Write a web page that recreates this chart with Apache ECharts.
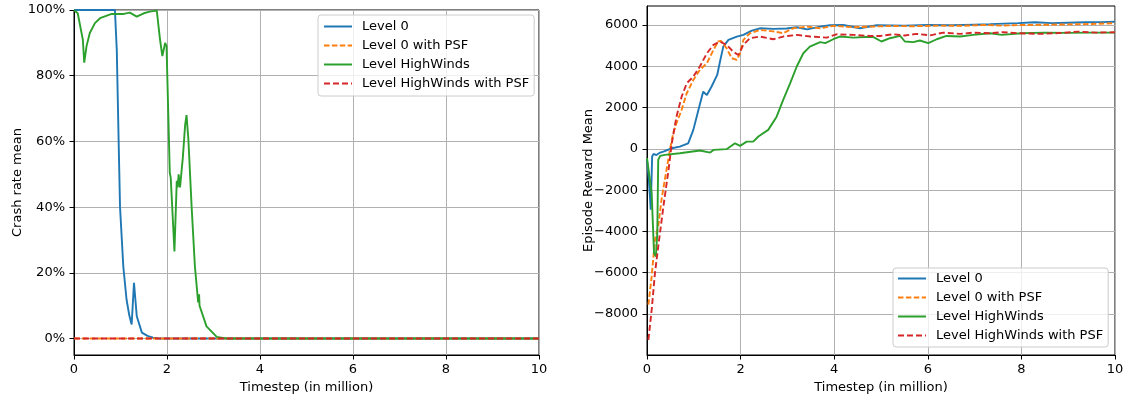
<!DOCTYPE html>
<html>
<head>
<meta charset="utf-8">
<script src="https://cdn.jsdelivr.net/npm/echarts@6/dist/echarts.min.js"></script>
<style>
  html, body { margin: 0; padding: 0; background: #fff; }
  #chart { width: 1126px; height: 399px; }
</style>
</head>
<body>
<div id="chart"></div>
<script>
// Series labels (shared by both panels)
const seriesNames = ['Level 0', 'Level 0 with PSF', 'Level HighWinds', 'Level HighWinds with PSF'];
const seriesColors = ['#1f77b4', '#ff7f0e', '#2ca02c', '#d62728'];

// Axis ticks
const timestepTicks = [0, 2, 4, 6, 8, 10];
const crashTicks = [0, 20, 40, 60, 80, 100];
const rewardTicks = [-8000, -6000, -4000, -2000, 0, 2000, 4000, 6000];

// ---- Crash rate mean (%) vs timestep (million) ----
const crashL0_t = [0, 0.88, 0.92, 0.96, 0.99, 1.06, 1.13, 1.19, 1.24, 1.29, 1.35, 1.46, 1.58, 1.70, 1.85, 10];
const crashL0_v = [100, 100, 87.8, 60, 40, 22, 11.9, 7, 4.3, 17, 6.8, 1.8, 0.8, 0.3, 0, 0];

const crashL0PSF_t = [0, 10];
const crashL0PSF_v = [0, 0];

const crashHW_t = [0, 0.08, 0.19, 0.22, 0.27, 0.34, 0.45, 0.56, 0.81, 1.07, 1.2, 1.35, 1.5, 1.63, 1.78,
  1.85, 1.90, 1.96, 1.99, 2.06, 2.08, 2.16, 2.21, 2.23, 2.25, 2.28, 2.34, 2.39, 2.42, 2.46,
  2.53, 2.60, 2.67, 2.69, 2.70, 2.85, 3.07, 3.3, 10];
const crashHW_v = [100, 99, 91, 84, 89, 93, 96, 97.5, 98.8, 98.8, 99.2, 98, 99, 99.5, 99.8,
  91, 86, 90, 89, 50.4, 49, 26.5, 48, 46, 50, 46, 55, 65, 68, 60.5,
  40, 22, 11, 13.5, 10, 3.7, 0.5, 0, 0];

const crashHWPSF_t = [0, 10];
const crashHWPSF_v = [0, 0];

// ---- Episode reward mean vs timestep (million) ----
const rewardL0_t = [0, 0.04, 0.08, 0.11, 0.14, 0.2, 0.28, 0.35, 0.53, 0.7, 0.88, 0.99, 1.10, 1.20, 1.28,
  1.38, 1.50, 1.56, 1.63, 1.74, 1.92, 2.06, 2.24, 2.41, 2.70, 2.98, 3.2, 3.42, 3.70, 3.91,
  4.19, 4.55, 4.91, 5.5, 6.0, 6.5, 7.0, 7.33, 7.93, 8.29, 8.65, 9.0, 9.36, 9.7, 10];
const rewardL0_v = [-530, -1500, -2950, -370, -240, -300, -180, -130, 30, 110, 270, 920, 1890, 2770, 2610,
  3020, 3580, 4230, 4950, 5280, 5440, 5520, 5730, 5840, 5810, 5830, 5890, 5790, 5920, 5990,
  6000, 5840, 5990, 5970, 6000, 5990, 6020, 6040, 6090, 6130, 6090, 6110, 6130, 6140, 6160];

const rewardL0PSF_t = [0.03, 0.10, 0.17, 0.24, 0.31, 0.38, 0.49, 0.56, 0.63, 0.74, 0.85, 0.99, 1.13, 1.28,
  1.42, 1.52, 1.58, 1.70, 1.81, 1.92, 1.99, 2.06, 2.20, 2.41, 2.70, 2.91, 3.12, 3.42, 3.70,
  3.99, 4.41, 4.76, 5.2, 5.7, 6.2, 6.7, 7.2, 7.6, 8.0, 8.5, 9.0, 9.5, 10];
const rewardL0PSF_v = [-7550, -6180, -4400, -3760, -2470, -1500, -50, 760, 1240, 1890, 2700, 3340, 3830, 4150,
  4790, 5200, 5230, 4880, 4390, 4310, 4630, 5280, 5600, 5760, 5690, 5600, 5840, 5920, 5840,
  5960, 5890, 5920, 5950, 5940, 5970, 5960, 6000, 5970, 6000, 6010, 6030, 6050, 6090];

const rewardHW_t = [0, 0.10, 0.15, 0.19, 0.22, 0.24, 0.28, 0.38, 0.70, 1.13, 1.35, 1.42, 1.70, 1.88, 1.99,
  2.13, 2.27, 2.38, 2.59, 2.77, 2.91, 3.06, 3.20, 3.34, 3.48, 3.70, 3.81, 3.98, 4.12, 4.41,
  4.76, 4.84, 5.01, 5.19, 5.41, 5.51, 5.69, 5.83, 6.01, 6.19, 6.40, 6.69, 6.97, 7.33, 7.58,
  8.0, 8.5, 9.0, 9.5, 10];
const rewardHW_v = [-450, -2150, -5050, -5210, -4070, -530, -340, -290, -210, -80, -180, -50, -15, 270, 145,
  350, 350, 600, 920, 1560, 2370, 3180, 3990, 4630, 4950, 5170, 5120, 5310, 5440, 5390,
  5430, 5410, 5200, 5360, 5470, 5200, 5170, 5250, 5120, 5310, 5470, 5440, 5520, 5600, 5520,
  5600, 5630, 5620, 5630, 5630];

const rewardHWPSF_t = [0.03, 0.10, 0.17, 0.24, 0.35, 0.46, 0.53, 0.63, 0.74, 0.85, 0.99, 1.13, 1.28, 1.42,
  1.56, 1.70, 1.84, 1.95, 2.06, 2.20, 2.41, 2.70, 2.91, 3.2, 3.49, 3.84, 4.05, 4.41, 4.76,
  4.98, 5.26, 5.5, 5.76, 6.05, 6.33, 6.69, 6.97, 7.33, 7.6, 7.93, 8.4, 8.9, 9.22, 9.6, 10];
const rewardHWPSF_v = [-9250, -7800, -6020, -4730, -2800, -1020, 270, 1560, 2530, 3180, 3500, 3990, 4630, 5040,
  5200, 5040, 4710, 4550, 5040, 5360, 5440, 5310, 5440, 5520, 5440, 5390, 5550, 5520, 5470,
  5470, 5550, 5490, 5570, 5500, 5630, 5570, 5630, 5600, 5650, 5600, 5570, 5620, 5680, 5630, 5650];

const FONT = 'DejaVu Sans';
const FS = 13;

function zip(ts, vs) { return ts.map((t, i) => [t, vs[i]]); }

const dashes = [null, [5.5, 2.4], null, [6, 3]];

function lineSeries(idx, gridIdx, ts, vs) {
  return {
    name: seriesNames[idx],
    type: 'line',
    xAxisIndex: gridIdx,
    yAxisIndex: gridIdx,
    data: zip(ts, vs),
    symbol: 'none',
    showSymbol: false,
    color: seriesColors[idx],
    lineStyle: {
      color: seriesColors[idx],
      width: 1.9,
      type: dashes[idx] ? dashes[idx] : 'solid'
    },
    emphasis: { disabled: true },
    animation: false
  };
}

function xAxisDef(gridIdx) {
  return {
    type: 'value',
    gridIndex: gridIdx,
    min: 0, max: 10, interval: 2,
    name: 'Timestep (in million)',
    nameLocation: 'middle',
    nameGap: 26,
    nameMoveOverlap: false,
    nameTextStyle: { fontFamily: FONT, fontSize: FS, color: '#000' },
    axisLine: { show: true, onZero: false, lineStyle: { color: '#000', width: 1 } },
    axisTick: { show: true, length: 4.5, customValues: timestepTicks, lineStyle: { color: '#000', width: 1 } },
    axisLabel: { fontFamily: FONT, fontSize: FS, color: '#000', margin: 8, customValues: timestepTicks },
    splitLine: { show: true, lineStyle: { color: '#b0b0b0', width: 1 } }
  };
}

function legendDef(pos, padding) {
  return Object.assign({
    orient: 'vertical',
    data: seriesNames,
    itemWidth: 28,
    itemHeight: 12,
    itemGap: 6,
    padding: padding,
    backgroundColor: 'rgba(255,255,255,0.8)',
    borderColor: '#cccccc',
    borderWidth: 1,
    borderRadius: 3,
    selectedMode: false,
    itemStyle: { opacity: 0 },
    textStyle: { fontFamily: FONT, fontSize: FS, color: '#000', lineHeight: 12, padding: [0, 0, 0, 5] }
  }, pos);
}

const gridBase = { show: true, borderColor: '#000', borderWidth: 1, backgroundColor: 'transparent',
  containLabel: false, outerBoundsMode: 'none' };

const option = {
  backgroundColor: '#fff',
  animation: false,
  legend: [
    legendDef({ left: 318, top: 15 }, [5, 5, 6, 5]),
    legendDef({ left: 893, top: 268 }, [4, 5, 5, 4])
  ],
  grid: [
    Object.assign({ left: 74, right: 587, top: 10, bottom: 44 }, gridBase),
    Object.assign({ left: 647, right: 11, top: 6, bottom: 44 }, gridBase)
  ],
  xAxis: [xAxisDef(0), xAxisDef(1)],
  yAxis: [
    {
      type: 'value',
      gridIndex: 0,
      min: -5, max: 100,
      name: 'Crash rate mean',
      nameLocation: 'middle',
      nameGap: 50,
      nameMoveOverlap: false,
      nameTextStyle: { fontFamily: FONT, fontSize: FS, color: '#000' },
      axisLine: { show: true, lineStyle: { color: '#000', width: 1 } },
      axisTick: { show: true, length: 4.5, customValues: crashTicks, lineStyle: { color: '#000', width: 1 } },
      axisLabel: { fontFamily: FONT, fontSize: FS, color: '#000', margin: 9, customValues: crashTicks,
        formatter: v => v + '%' },
      splitLine: { show: true, lineStyle: { color: '#b0b0b0', width: 1 } }
    },
    {
      type: 'value',
      gridIndex: 1,
      min: -9985, max: 6920,
      name: 'Episode Reward Mean',
      nameLocation: 'middle',
      nameGap: 52,
      nameMoveOverlap: false,
      nameTextStyle: { fontFamily: FONT, fontSize: FS, color: '#000' },
      axisLine: { show: true, lineStyle: { color: '#000', width: 1 } },
      axisTick: { show: true, length: 4.5, customValues: rewardTicks, lineStyle: { color: '#000', width: 1 } },
      axisLabel: { fontFamily: FONT, fontSize: FS, color: '#000', margin: 9, customValues: rewardTicks,
        formatter: v => (v < 0 ? '\u2212' + Math.abs(v) : String(v)) },
      splitLine: { show: true, lineStyle: { color: '#b0b0b0', width: 1 } }
    }
  ],
  series: [
    lineSeries(0, 0, crashL0_t, crashL0_v),
    lineSeries(1, 0, crashL0PSF_t, crashL0PSF_v),
    lineSeries(2, 0, crashHW_t, crashHW_v),
    lineSeries(3, 0, crashHWPSF_t, crashHWPSF_v),
    lineSeries(0, 1, rewardL0_t, rewardL0_v),
    lineSeries(1, 1, rewardL0PSF_t, rewardL0PSF_v),
    lineSeries(2, 1, rewardHW_t, rewardHW_v),
    lineSeries(3, 1, rewardHWPSF_t, rewardHWPSF_v)
  ]
};

const chart = echarts.init(document.getElementById('chart'), null, { renderer: 'canvas' });
chart.setOption(option);
</script>
</body>
</html>
